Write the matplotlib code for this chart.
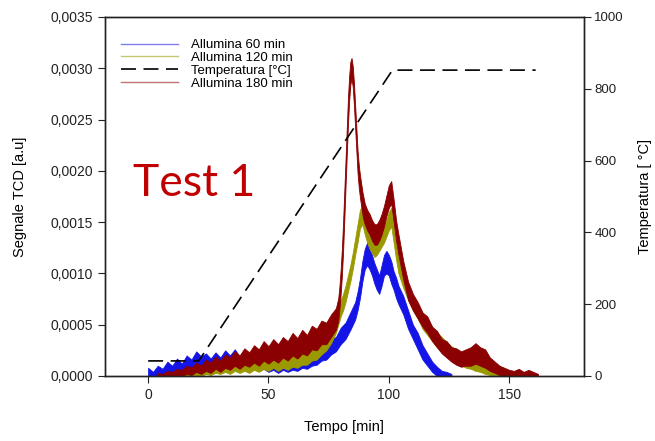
import numpy as np
import matplotlib
matplotlib.use("Agg")
import matplotlib.pyplot as plt
from matplotlib.ticker import FuncFormatter

plt.rcParams["font.family"] = ["Liberation Sans", "DejaVu Sans"]

# Allumina 60 min
t_60 = np.concatenate([np.arange(0, 87, 2), np.arange(87, 105, 1),
                       np.arange(106, 127, 2)])
hi_60 = [0.00008, 0.00004, 0.0001, 0.00007, 0.00014, 0.0001, 0.00017, 0.00012,
         0.0002, 0.00016, 0.00024, 0.00019, 0.00022, 0.00017, 0.00023, 0.00018,
         0.00025, 0.0002, 0.00026, 0.00019, 0.00024, 0.00018, 0.00027, 0.0002,
         0.00025, 0.00018, 0.00023, 0.00019, 0.00026, 0.00018, 0.00022, 0.0002,
         0.00027, 0.0002, 0.00028, 0.00024, 0.00032, 0.00027, 0.00036, 0.00038,
         0.00047, 0.00052, 0.00062, 0.00072,
         0.00082, 0.00095, 0.00112, 0.00124, 0.0013, 0.00124, 0.00118, 0.0011,
         0.00104, 0.00098, 0.00108, 0.00118, 0.00122, 0.00118, 0.00112,
         0.00102, 0.00096, 0.00088,
         0.00078, 0.00064, 0.0005, 0.00042, 0.0003, 0.00022, 0.00014, 0.00009,
         0.00005, 0.00004, 0.00002]
lo_60 = [0, 0, 0, 0.00002, 0.00001, 0.00004, 0.00003, 0.00006, 0.00004,
         0.00007, 0.00005, 0.00008, 0.00006, 0.00004, 0.00007, 0.00005,
         0.00008, 0.00004, 0.00007, 0.00005, 0.00007, 0.00004, 0.00008,
         0.00005, 0.00007, 0.00004, 0.00006, 0.00003, 0.00006, 0.00004,
         0.00006, 0.00005, 0.00008, 0.00007, 0.0001, 0.00011, 0.00015, 0.00016,
         0.00021, 0.00024, 0.00031, 0.00036, 0.00045, 0.00055,
         0.00064, 0.00076, 0.00092, 0.00104, 0.00108, 0.00104, 0.00098, 0.0009,
         0.00084, 0.0008, 0.00088, 0.00098, 0.001, 0.00098, 0.0009, 0.00084,
         0.00076, 0.0007,
         0.0006, 0.00046, 0.00036, 0.00026, 0.00016, 0.0001, 0.00004, 0, 0, 0,
         0]

# Allumina 120 min
t_120 = np.concatenate([np.arange(10, 79, 2), np.arange(79, 105, 1),
                        np.arange(106, 153, 2)])
hi_120 = [0.00003, 0.00005, 0.00004, 0.00007, 0.00005, 0.00009, 0.00007,
          0.00011, 0.00009, 0.00013, 0.0001, 0.00014, 0.00012, 0.00016,
          0.00013, 0.00017, 0.00014, 0.00019, 0.00016, 0.0002, 0.00017,
          0.00022, 0.00018, 0.00023, 0.0002, 0.00025, 0.00022, 0.00027,
          0.00026, 0.00031, 0.00032, 0.00037, 0.0004, 0.00048, 0.00058,
          0.00066, 0.00074, 0.0008, 0.00088, 0.00098, 0.00108, 0.0012, 0.00134,
          0.00148, 0.00162, 0.00166, 0.00156, 0.00148, 0.0014, 0.00136,
          0.00132, 0.00134, 0.00138, 0.00142, 0.00146, 0.00152, 0.0016,
          0.00164, 0.00146, 0.0013, 0.00116,
          0.001, 0.00088, 0.00078, 0.0007, 0.0006, 0.00055, 0.00048, 0.00042,
          0.00038, 0.00033, 0.00029, 0.00026, 0.00023, 0.0002, 0.00018,
          0.00015, 0.00013, 0.00011, 0.00009, 0.00007, 0.00006, 0.00004,
          0.00003, 0.00001]
lo_120 = [0, 0, 0, 0, 0, 0.00001, 0, 0.00002, 0.00001, 0.00003, 0.00002,
          0.00004, 0.00002, 0.00005, 0.00003, 0.00005, 0.00003, 0.00006,
          0.00004, 0.00007, 0.00005, 0.00008, 0.00005, 0.00008, 0.00006,
          0.00009, 0.00008, 0.00011, 0.00011, 0.00015, 0.00016, 0.00021,
          0.00025, 0.00032, 0.00042,
          0.0005, 0.00058, 0.00064, 0.00072, 0.00082, 0.00092, 0.00104,
          0.00118, 0.0013, 0.00144, 0.00148, 0.00138, 0.0013, 0.00124, 0.0012,
          0.00116, 0.00118, 0.00122, 0.00126, 0.0013, 0.00136, 0.00142,
          0.00146, 0.0013, 0.00114, 0.001,
          0.00086, 0.00074, 0.00064, 0.00056, 0.00046, 0.0004, 0.00034,
          0.00028, 0.00024, 0.0002, 0.00016, 0.00013, 0.00011, 0.00008,
          0.00007, 0.00005, 0.00004, 0.00002, 0.00001, 0, 0, 0, 0, 0]

# Allumina 180 min
t_180 = np.concatenate([np.arange(4, 79, 2), np.arange(79, 90.1, 0.5),
                        np.arange(91, 105, 1), np.arange(106, 163, 2)])
hi_180 = [0.00003, 0.00002, 0.00005, 0.00004, 0.00007, 0.00006, 0.0001,
          0.00008, 0.00013, 0.0001, 0.00016, 0.00013, 0.00019, 0.00015,
          0.00021, 0.00018, 0.00024, 0.0002, 0.00027, 0.00023, 0.0003,
          0.00026, 0.00034, 0.00029, 0.00036, 0.00031, 0.00038, 0.00034,
          0.00042, 0.00037, 0.00045, 0.0004, 0.00049, 0.00046, 0.00054,
          0.00052, 0.0006, 0.00066,
          0.00076, 0.00088, 0.00104, 0.00124, 0.0015, 0.0018, 0.0021, 0.0024,
          0.0027, 0.00292, 0.00306, 0.0031, 0.00302, 0.00286, 0.00264,
          0.00242, 0.0022, 0.00206, 0.00196, 0.00188, 0.0018, 0.00174, 0.00168,
          0.00162, 0.00158, 0.00152, 0.00148, 0.00148, 0.00152, 0.00158,
          0.00166, 0.00176, 0.00186, 0.0019, 0.00172, 0.00152, 0.00138,
          0.00112, 0.00092, 0.0008, 0.00072, 0.00062, 0.00058, 0.00048,
          0.00044, 0.00036, 0.00034, 0.00028, 0.00027, 0.00024, 0.00026,
          0.00028, 0.00032, 0.00028, 0.00026, 0.00018, 0.00014, 0.0001,
          0.00008, 0.00006, 0.00005, 0.00007, 0.00004, 0.00006, 0.00004,
          0.00002]
lo_180 = [0, 0, 0, 0, 0.00001, 0, 0.00002, 0.00001, 0.00004, 0.00002,
          0.00005, 0.00003, 0.00007, 0.00004, 0.00008, 0.00006, 0.0001,
          0.00007, 0.00011, 0.00009, 0.00013, 0.0001, 0.00015, 0.00012,
          0.00016, 0.00013, 0.00018, 0.00015, 0.0002, 0.00017, 0.00022,
          0.0002, 0.00026, 0.00025, 0.00031, 0.00031, 0.00038, 0.00045,
          0.00054, 0.00066, 0.0008, 0.00098, 0.00122, 0.00152, 0.00184,
          0.00214, 0.00244, 0.00268, 0.00284, 0.0029, 0.00282, 0.00264,
          0.00242, 0.0022, 0.00198, 0.00184, 0.00174, 0.00166, 0.00158,
          0.00152, 0.00148,
          0.00142, 0.00138, 0.00132, 0.00128, 0.00128, 0.00132, 0.00138,
          0.00146, 0.00156, 0.00164, 0.00168, 0.0015, 0.00132, 0.00118,
          0.00094, 0.00074, 0.00064, 0.00056, 0.00048, 0.00042, 0.00034,
          0.00028, 0.00022, 0.00018, 0.00014, 0.00011, 0.00009, 0.0001,
          0.0001, 0.00012, 0.0001, 0.00008, 0.00005, 0.00003, 0.00001, 0, 0,
          0, 0, 0, 0, 0, 0]

# Temperature program
t_temp = [0, 21, 101.5, 161]
temp = [42, 42, 852, 852]

BLUE = "#1414e6"
OLIVE = "#9a9a00"
DARKRED = "#8b0000"

fig = plt.figure(figsize=(6.55, 4.41), dpi=100)
ax = fig.add_axes([0.160, 0.1474, 0.7313, 0.8141])
ax2 = ax.twinx()

series = [
    (t_60, lo_60, hi_60, BLUE, "Allumina 60 min"),
    (t_120, lo_120, hi_120, OLIVE, "Allumina 120 min"),
    (t_180, lo_180, hi_180, DARKRED, "Allumina 180 min"),
]
handles = []
for t, lo, hi, col, lab in series:
    ax.fill_between(t, lo, hi, color=col, linewidth=0.6, edgecolor=col)
    h, = ax.plot([], [], color=col, linewidth=1.0, alpha=0.55, label=lab)
    handles.append(h)

ht, = ax2.plot(t_temp, temp, color="black", linewidth=1.2,
               dashes=(9, 4.5), label="Temperatura [°C]")
handles.insert(2, ht)

ax.set_xlim(-18, 181)
ax.set_ylim(0, 0.0035)
ax.set_yticks(np.arange(0, 0.00351, 0.0005))
ax.yaxis.set_major_formatter(
    FuncFormatter(lambda v, p: f"{v:.4f}".replace(".", ",")))
ax.set_xticks([0, 50, 100, 150])
ax2.set_ylim(0, 1000)
ax2.set_yticks([0, 200, 400, 600, 800, 1000])

for a in (ax, ax2):
    a.tick_params(direction="out", length=5, width=0.8, labelsize=10,
                  colors="#222222")
    for s in a.spines.values():
        s.set_linewidth(1.0)
        s.set_color("#222222")
ax2.tick_params(labelsize=9.5, pad=2.5)

ax.set_xlabel("Tempo [min]", fontsize=10.5, labelpad=13)
ax.set_ylabel("Segnale TCD [a.u]", fontsize=10.5, labelpad=17)
ax2.set_ylabel("Temperatura [ °C]", fontsize=10.5, labelpad=10)

ax.legend(handles=handles, loc="upper left", bbox_to_anchor=(0.01, 0.972),
          frameon=False, fontsize=9.5, handlelength=4.3, handletextpad=1.0,
          labelspacing=0.05)

ax.text(0.058, 0.501, "Test 1", transform=ax.transAxes, fontsize=32,
        color="#c00000", family=["Lato", "DejaVu Sans"], va="baseline")

fig.savefig("out.png", dpi=100)
